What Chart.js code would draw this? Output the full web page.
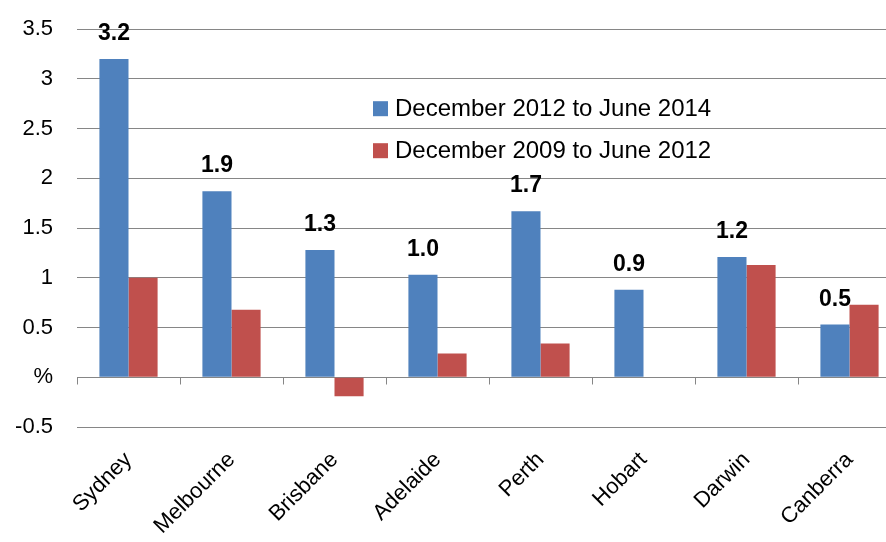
<!DOCTYPE html>
<html>
<head>
<meta charset="utf-8">
<script src="https://cdn.jsdelivr.net/npm/chart.js@4.4.1/dist/chart.umd.min.js"></script>
<style>
  html, body { margin: 0; padding: 0; background: #fff; overflow: hidden; }
  #wrap { position: relative; top: -8px; width: 901px; height: 550px; }
</style>
</head>
<body>
<div id="wrap"><canvas id="chart"></canvas></div>
<script>
const cities = ['Sydney', 'Melbourne', 'Brisbane', 'Adelaide', 'Perth', 'Hobart', 'Darwin', 'Canberra'];
const recent = [3.20, 1.87, 1.28, 1.03, 1.67, 0.88, 1.21, 0.53];
const earlier = [1.00, 0.68, -0.19, 0.24, 0.34, null, 1.13, 0.73];
const seriesNames = ['December 2012 to June 2014', 'December 2009 to June 2012'];
const seriesColors = ['#4F81BD', '#C0504D'];
const yMin = -0.5, yMax = 3.5, yStep = 0.5;
const zeroLabel = '%';

const FONT = "'Liberation Sans', Arial, sans-serif";
const gridColor = '#868686';

// zero axis line with small ticks between categories
const zeroAxis = {
  id: 'zeroAxis',
  beforeDatasetsDraw(chart) {
    const { ctx, chartArea, scales } = chart;
    const y0 = Math.round(scales.y.getPixelForValue(0)) + 0.5;
    const step = chartArea.width / cities.length;
    ctx.save();
    ctx.strokeStyle = gridColor;
    ctx.lineWidth = 1;
    ctx.beginPath();
    ctx.moveTo(chartArea.left, y0);
    ctx.lineTo(chartArea.right, y0);
    for (let i = 0; i <= cities.length; i++) {
      const x = Math.round(chartArea.left + i * step) + 0.5;
      ctx.moveTo(x, y0);
      ctx.lineTo(x, y0 + 7);
    }
    ctx.stroke();
    ctx.restore();
  }
};

// bold value labels above the blue bars
const valueLabels = {
  id: 'valueLabels',
  afterDatasetsDraw(chart) {
    const { ctx } = chart;
    const meta = chart.getDatasetMeta(0);
    ctx.save();
    ctx.font = 'bold 23px ' + FONT;
    ctx.fillStyle = '#000';
    ctx.textAlign = 'center';
    ctx.textBaseline = 'alphabetic';
    meta.data.forEach((bar, i) => {
      ctx.fillText(recent[i].toFixed(1), bar.x, bar.y - 19);
    });
    ctx.restore();
  }
};

// legend floating inside the plot
const floatLegend = {
  id: 'floatLegend',
  afterDraw(chart) {
    const { ctx, chartArea } = chart;
    const x = chartArea.left + 296;
    const ys = [chartArea.top + 79, chartArea.top + 121];
    ctx.save();
    ctx.font = '24px ' + FONT;
    ctx.textBaseline = 'middle';
    ctx.textAlign = 'left';
    seriesNames.forEach((name, i) => {
      ctx.fillStyle = seriesColors[i];
      ctx.fillRect(x, ys[i] - 7, 15, 15);
      ctx.fillStyle = '#000';
      ctx.fillText(name, x + 22, ys[i] + 1);
    });
    ctx.restore();
  }
};

const ctx = document.querySelector('#chart').getContext('2d');

new Chart(ctx, {
  type: 'bar',
  data: {
    labels: cities,
    datasets: [{
      label: seriesNames[0],
      data: recent,
      backgroundColor: seriesColors[0],
      borderWidth: 0
    }, {
      label: seriesNames[1],
      data: earlier,
      backgroundColor: seriesColors[1],
      borderWidth: 0
    }]
  },
  options: {
    responsive: true,
    maintainAspectRatio: false,
    animation: false,
    datasets: {
      bar: { categoryPercentage: 0.565, barPercentage: 1 }
    },
    layout: { padding: { top: 10, left: 0, right: 0, bottom: 0 } },
    scales: {
      x: {
        grid: { display: false },
        border: { display: false },
        ticks: {
          autoSkip: false,
          minRotation: 45,
          maxRotation: 45,
          padding: 12,
          labelOffset: 0,
          color: '#000',
          font: { family: FONT, size: 22 }
        },
        afterFit(scale) { scale.height = 115; }
      },
      y: {
        min: yMin,
        max: yMax,
        grid: { color: gridColor, drawTicks: false },
        border: { display: false },
        ticks: {
          stepSize: yStep,
          padding: 24,
          color: '#000',
          font: { family: FONT, size: 22 },
          callback: (v) => v === 0 ? zeroLabel : String(v)
        },
        afterFit(scale) { scale.width = 77; }
      }
    },
    plugins: {
      legend: { display: false },
      tooltip: { enabled: false }
    }
  },
  plugins: [zeroAxis, valueLabels, floatLegend]
});
</script>
</body>
</html>
